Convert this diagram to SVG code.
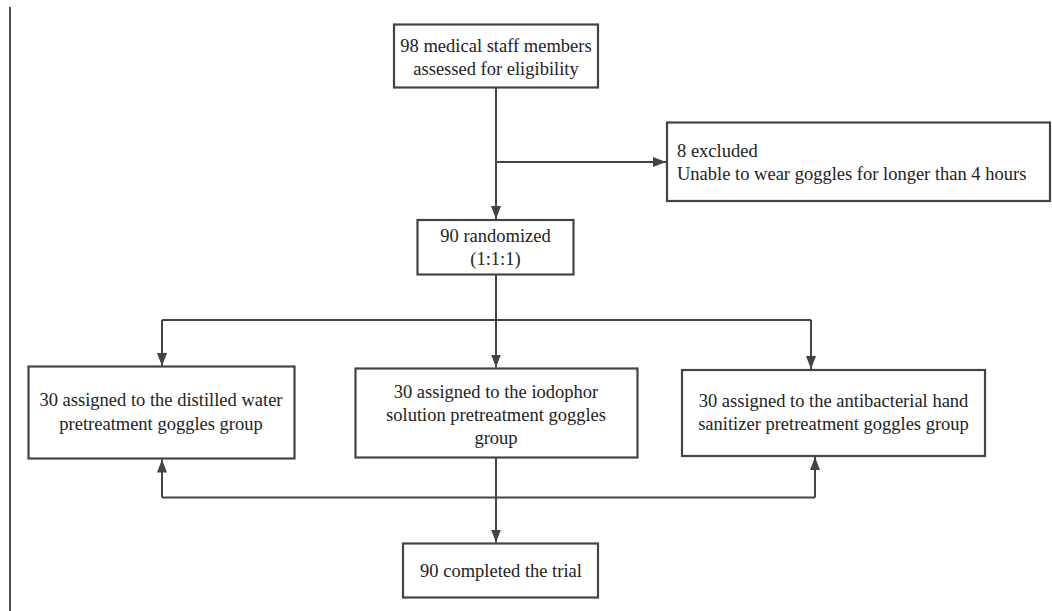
<svg xmlns="http://www.w3.org/2000/svg" width="1052" height="611" viewBox="0 0 1052 611">
<style>
.box{fill:#fff;stroke:#444;stroke-width:2.2}
.ln{fill:none;stroke:#444;stroke-width:2}
text{font-family:'Liberation Serif',Tinos,'Times New Roman',Times,'DejaVu Serif',serif;font-size:18.5px;fill:#222}
.c{text-anchor:middle}
</style>
<defs>
<marker id="arr" markerUnits="userSpaceOnUse" markerWidth="14" markerHeight="12" refX="13" refY="5" orient="auto">
<path d="M0,0 L13,5 L0,10 Z" fill="#444"/>
</marker>
</defs>
<rect width="1052" height="611" fill="#fff"/>
<line x1="10" y1="7" x2="10" y2="611" stroke="#111" stroke-width="1.5"/>
<g id="connectors">
<line class="ln" x1="496" y1="88" x2="496" y2="219" marker-end="url(#arr)"/>
<line class="ln" x1="496" y1="162" x2="666" y2="162" marker-end="url(#arr)"/>
<polyline class="ln" points="496,274.5 496,320"/>
<polyline class="ln" points="162,320 811,320"/>
<line class="ln" x1="162" y1="320" x2="162" y2="366" marker-end="url(#arr)"/>
<line class="ln" x1="496" y1="320" x2="496" y2="367.5" marker-end="url(#arr)"/>
<line class="ln" x1="811" y1="320" x2="811" y2="369" marker-end="url(#arr)"/>
<polyline class="ln" points="162,497.5 815,497.5"/>
<line class="ln" x1="162" y1="497.5" x2="162" y2="459.5" marker-end="url(#arr)"/>
<line class="ln" x1="815" y1="497.5" x2="815" y2="457" marker-end="url(#arr)"/>
<line class="ln" x1="496" y1="457.5" x2="496" y2="542.5" marker-end="url(#arr)"/>
</g>
<g id="n-assessed">
<rect class="box" x="394" y="24.5" width="204" height="63"/>
<text class="c" x="496" y="52" style="font-family:'Liberation Serif',serif">98 medical staff members</text>
<text class="c" x="496" y="75" style="font-family:'Liberation Serif',serif">assessed for eligibility</text>
</g>
<g id="n-excluded">
<rect class="box" x="667" y="122.5" width="383" height="78.5"/>
<text x="677" y="156.5">8 excluded</text>
<text x="677" y="179.5">Unable to wear goggles for longer than 4 hours</text>
</g>
<g id="n-randomized">
<rect class="box" x="417.5" y="220" width="156" height="54.5"/>
<text class="c" x="495.5" y="242">90 randomized</text>
<text class="c" x="495.5" y="265">(1:1:1)</text>
</g>
<g id="n-distilled">
<rect class="box" x="28.5" y="366.5" width="266" height="92"/>
<text class="c" x="161" y="406">30 assigned to the distilled water</text>
<text class="c" x="161" y="430">pretreatment goggles group</text>
</g>
<g id="n-iodophor">
<rect class="box" x="355.5" y="368.5" width="282" height="89"/>
<text class="c" x="496" y="398">30 assigned to the iodophor</text>
<text class="c" x="496" y="421">solution pretreatment goggles</text>
<text class="c" x="496" y="443.5">group</text>
</g>
<g id="n-sanitizer">
<rect class="box" x="682" y="370" width="303" height="86"/>
<text class="c" x="833.5" y="407">30 assigned to the antibacterial hand</text>
<text class="c" x="833.5" y="430">sanitizer pretreatment goggles group</text>
</g>
<g id="n-completed">
<rect class="box" x="403" y="543.5" width="195" height="54"/>
<text class="c" x="501" y="577">90 completed the trial</text>
</g>
</svg>
